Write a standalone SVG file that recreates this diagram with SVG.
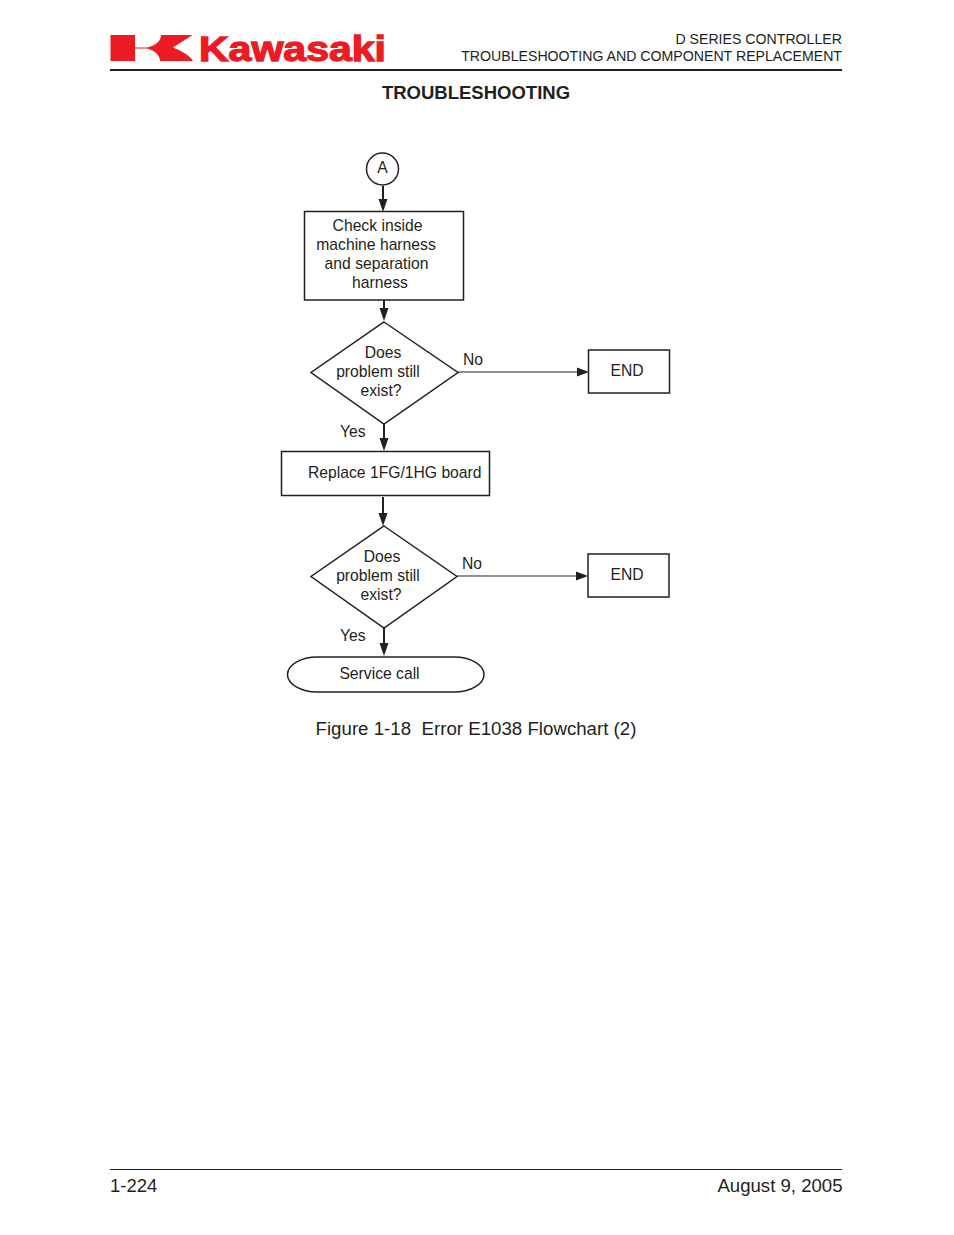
<svg xmlns="http://www.w3.org/2000/svg" width="954" height="1235" viewBox="0 0 954 1235">
<style>
text{font-family:"Liberation Sans",Arial,sans-serif;fill:#231f20;font-size:15.700px}
.s{fill:#fff;stroke:#231f20;stroke-width:1.5}
.c{fill:none;stroke:#231f20;stroke-width:2}
.t{fill:none;stroke:#231f20;stroke-width:1.200}
.a{fill:#231f20}
.m{text-anchor:middle}
.e{text-anchor:end}
</style>
<rect width="954" height="1235" fill="#fff"/>
<g id="header">
<rect x="110.500" y="35" width="24.500" height="26" fill="#ed1c24"/>
<path d="M135,47.500 L147,47.500 C154,46 161,42 161,35 L192.500,35 L173,47.500 C178,49.500 190,55 193,61 L160,61 C160,55 154,50 147,48.500 L135,48.500 Z" fill="#ed1c24"/>
<text x="199" y="60.500" style="font-size:35px;font-weight:bold;fill:#ed1c24;stroke:#ed1c24;stroke-width:1.300" textLength="187" lengthAdjust="spacingAndGlyphs">Kawasaki</text>
<line x1="110" y1="70" x2="842" y2="70" stroke="#231f20" stroke-width="2"/>
<text x="842" y="44" class="e" style="font-size:14.150px">D SERIES CONTROLLER</text>
<text x="842" y="61" class="e" style="font-size:14.150px">TROUBLESHOOTING AND COMPONENT REPLACEMENT</text>
<text x="476" y="99" class="m" style="font-size:18.500px;font-weight:bold">TROUBLESHOOTING</text>
</g>
<g id="connectors">
<line class="c" x1="383" y1="186" x2="383" y2="202"/><polygon class="a" points="378.500,199 387.500,199 383,212"/>
<line class="c" x1="384" y1="300" x2="384" y2="312"/><polygon class="a" points="379.500,308 388.500,308 384,321"/>
<line class="t" x1="458" y1="372" x2="580" y2="372"/><polygon class="a" points="577,367.500 589,372 577,376.500"/>
<line class="c" x1="384" y1="424" x2="384" y2="442"/><polygon class="a" points="379.500,438 388.500,438 384,451"/>
<line class="c" x1="383" y1="497" x2="383" y2="516"/><polygon class="a" points="378.500,513 387.500,513 383,526"/>
<line class="t" x1="457" y1="576" x2="580" y2="576"/><polygon class="a" points="576,571.500 588,576 576,580.500"/>
<line class="c" x1="384" y1="628" x2="384" y2="646"/><polygon class="a" points="379.500,643 388.500,643 384,656"/>
<text x="463" y="365">No</text>
<text x="340" y="437">Yes</text>
<text x="462" y="569">No</text>
<text x="340" y="641">Yes</text>
</g>
<g id="nodeA"><circle class="s" cx="382.500" cy="169" r="16"/><text x="382.500" y="173" class="m">A</text></g>
<g id="check"><rect class="s" x="304.500" y="211.500" width="159" height="88.500"/>
<text x="377.500" y="231" class="m">Check inside</text>
<text x="376" y="250" class="m">machine harness</text>
<text x="376.500" y="269" class="m">and separation</text>
<text x="380" y="288" class="m">harness</text></g>
<g id="decision1"><polygon class="s" points="384,322 458,372.500 384,424 311,372.500"/>
<text x="383" y="358" class="m">Does</text>
<text x="378" y="377" class="m">problem still</text>
<text x="381" y="396" class="m">exist?</text></g>
<g id="end1"><rect class="s" x="588.500" y="350" width="81" height="43"/><text x="627" y="376" class="m">END</text></g>
<g id="replace"><rect class="s" x="281.500" y="451.500" width="208" height="44"/><text x="308" y="478">Replace 1FG/1HG board</text></g>
<g id="decision2"><polygon class="s" points="384,526 457,576.500 384,628 311,576.500"/>
<text x="382" y="562" class="m">Does</text>
<text x="378" y="581" class="m">problem still</text>
<text x="381" y="600" class="m">exist?</text></g>
<g id="end2"><rect class="s" x="588" y="554" width="81" height="43"/><text x="627" y="580" class="m">END</text></g>
<g id="service"><rect class="s" x="287.500" y="657" width="196.500" height="35" rx="30" ry="17.500"/><text x="379.500" y="679" class="m">Service call</text></g>
<g id="footer">
<text x="476" y="735" class="m" style="font-size:18.700px;white-space:pre">Figure 1-18  Error E1038 Flowchart (2)</text>
<line x1="110" y1="1169.500" x2="842" y2="1169.500" stroke="#231f20" stroke-width="1"/>
<text x="110" y="1192" style="font-size:18.500px">1-224</text>
<text x="842.500" y="1192" class="e" style="font-size:18.600px">August 9, 2005</text>
</g>
</svg>
